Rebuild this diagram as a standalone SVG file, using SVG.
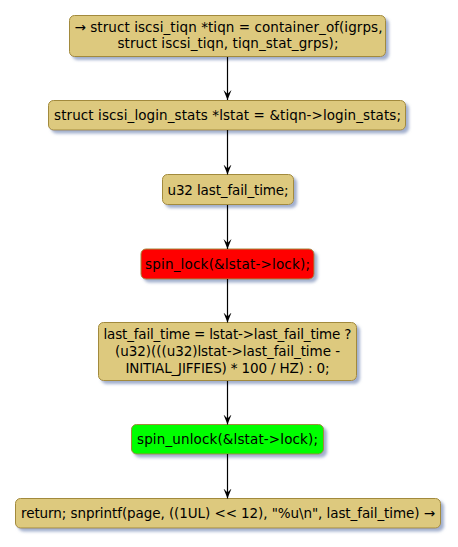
<svg xmlns="http://www.w3.org/2000/svg" width="458" height="547" viewBox="0 0 458 547">
<defs>
<filter id="sh" x="-10%" y="-20%" width="130%" height="160%">
<feGaussianBlur in="SourceAlpha" stdDeviation="1.5" result="b"/>
<feOffset dx="3" dy="3" in="b" result="o"/>
<feFlood flood-color="#8A9BC0" flood-opacity="0.8"/>
<feComposite in2="o" operator="in" result="s"/>
<feMerge><feMergeNode in="s"/><feMergeNode in="SourceGraphic"/></feMerge>
</filter>
<marker id="ah" markerWidth="10" markerHeight="10" refX="10" refY="5" orient="auto" markerUnits="userSpaceOnUse" viewBox="0 0 10 10">
<polygon points="10,5 0,1 4,5 0,9" fill="#000"/>
</marker>
</defs>
<style>
.n rect{fill:#DDC97E;stroke:#A28A3C;stroke-width:1;filter:url(#sh)}
.n text{font-family:"DejaVu Sans",sans-serif;font-size:13.5px;fill:#000;text-anchor:middle}
.red rect{fill:#FF0000}
.grn rect{fill:#00FF00}
#edges line{stroke:#000;stroke-width:1.2;marker-end:url(#ah)}
</style>
<rect width="458" height="547" fill="#fff"/>
<g id="n1" class="n"><rect x="69.5" y="15.5" width="316" height="41" rx="5"/><text x="228.5" y="31.5" textLength="308" lengthAdjust="spacing">→ struct iscsi_tiqn *tiqn = container_of(igrps,</text><text x="228" y="47.5" textLength="221" lengthAdjust="spacing">struct iscsi_tiqn, tiqn_stat_grps);</text></g>
<g id="n2" class="n"><rect x="48.5" y="100.5" width="357" height="29.5" rx="5"/><text x="227.5" y="120" textLength="347" lengthAdjust="spacing">struct iscsi_login_stats *lstat = &amp;tiqn-&gt;login_stats;</text></g>
<g id="n3" class="n"><rect x="162.5" y="174.5" width="131" height="30" rx="5"/><text x="228" y="194.5" textLength="121" lengthAdjust="spacing">u32 last_fail_time;</text></g>
<g id="n4" class="n red"><rect x="141" y="249" width="173" height="30" rx="5"/><text x="227.5" y="269" textLength="165" lengthAdjust="spacing">spin_lock(&amp;lstat-&gt;lock);</text></g>
<g id="n5" class="n"><rect x="98.5" y="322.5" width="258" height="58" rx="5"/><text x="227.5" y="339" textLength="248" lengthAdjust="spacing">last_fail_time = lstat-&gt;last_fail_time ?</text><text x="227.5" y="356" textLength="225" lengthAdjust="spacing">(u32)(((u32)lstat-&gt;last_fail_time -</text><text x="227.5" y="373" textLength="204" lengthAdjust="spacing">INITIAL_JIFFIES) * 100 / HZ) : 0;</text></g>
<g id="n6" class="n grn"><rect x="131.5" y="424.5" width="192" height="29.5" rx="5"/><text x="227.5" y="444" textLength="181" lengthAdjust="spacing">spin_unlock(&amp;lstat-&gt;lock);</text></g>
<g id="n7" class="n"><rect x="15.5" y="498.5" width="425" height="29.5" rx="5"/><text x="228" y="518" textLength="414" lengthAdjust="spacing">return; snprintf(page, ((1UL) &lt;&lt; 12), "%u\n", last_fail_time) →</text></g>
<g id="edges">
<line x1="227.5" y1="57" x2="227.5" y2="100"/>
<line x1="227.5" y1="130" x2="227.5" y2="174.5"/>
<line x1="227.5" y1="205" x2="227.5" y2="249"/>
<line x1="227.5" y1="279" x2="227.5" y2="322.5"/>
<line x1="227.5" y1="381" x2="227.5" y2="424.5"/>
<line x1="227.5" y1="454" x2="227.5" y2="498.5"/>
</g>
</svg>
